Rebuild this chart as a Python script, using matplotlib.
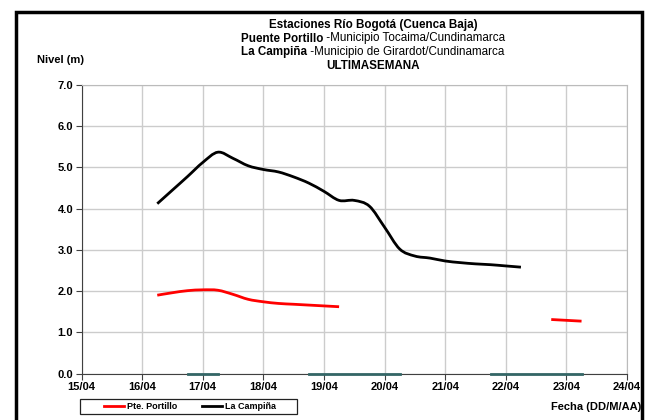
import numpy as np
import matplotlib
matplotlib.use('Agg')
import matplotlib.pyplot as plt
from matplotlib.lines import Line2D
from matplotlib.patches import Rectangle, PathPatch
from matplotlib.path import Path

plt.rcParams['font.family'] = ['Liberation Sans', 'DejaVu Sans']

# Time axis in days of April, 6-hourly readings
days_tick = [15, 16, 17, 18, 19, 20, 21, 22, 23, 24]
tick_labels = ['15/04', '16/04', '17/04', '18/04', '19/04',
               '20/04', '21/04', '22/04', '23/04', '24/04']

campina_t = [16.25, 16.5, 16.75, 17.0, 17.25, 17.5, 17.75, 18.0, 18.25, 18.5,
             18.75, 19.0, 19.25, 19.5, 19.75, 20.0, 20.25, 20.5, 20.75, 21.0,
             21.25, 21.5, 21.75, 22.0, 22.25]
campina_v = [4.12, 4.45, 4.78, 5.12, 5.37, 5.22, 5.04, 4.95, 4.89, 4.77,
             4.62, 4.42, 4.20, 4.20, 4.06, 3.55, 3.02, 2.85, 2.80, 2.73,
             2.69, 2.66, 2.64, 2.61, 2.58]

portillo_t1 = [16.25, 16.5, 16.75, 17.0, 17.25, 17.5, 17.75, 18.0, 18.25, 18.5,
               18.75, 19.0, 19.25]
portillo_v1 = [1.90, 1.96, 2.01, 2.03, 2.02, 1.92, 1.80, 1.74, 1.70, 1.68,
               1.66, 1.64, 1.62]
portillo_t2 = [22.75, 23.0, 23.25]
portillo_v2 = [1.31, 1.29, 1.27]

# zero-level segments drawn on the x axis
zero_segments = [(16.75, 17.25), (18.75, 20.25), (21.75, 23.25)]

W, H = 655, 420


def smooth_path(xs, ys):
    # Excel-style smoothed line: cubic Bezier through every point
    p = np.column_stack([xs, ys]).astype(float)
    n = len(p)
    verts = [p[0]]
    codes = [Path.MOVETO]
    for i in range(n - 1):
        prev = p[i - 1] if i > 0 else p[i]
        nxt = p[i + 2] if i + 2 < n else p[i + 1]
        c1 = p[i] + (p[i + 1] - prev) / 6
        c2 = p[i + 1] - (nxt - p[i]) / 6
        verts += [c1, c2, p[i + 1]]
        codes += [Path.CURVE4] * 3
    return Path(verts, codes)


fig = plt.figure(figsize=(W / 100, H / 100), dpi=100)
ax = fig.add_axes([81.5 / W, 1 - 373.5 / H, (627 - 81.5) / W, (373.5 - 85) / H])

# outer frame
fig.patches.append(Rectangle((16 / W, -0.05), (642 - 16) / W, 1.05 - 12 / H,
                             transform=fig.transFigure, fill=False,
                             edgecolor='black', linewidth=2.5))

for xs, ys, col in [(portillo_t1, portillo_v1, '#ff0000'),
                    (portillo_t2, portillo_v2, '#ff0000'),
                    (campina_t, campina_v, 'black')]:
    ax.add_patch(PathPatch(smooth_path(xs, ys), fill=False, edgecolor=col,
                           linewidth=2.0, capstyle='butt', zorder=3))
for a, b in zero_segments:
    ax.plot([a, b], [0, 0], color='#336666', linewidth=2.0, zorder=4, clip_on=False)

ax.set_xlim(15, 24)
ax.set_ylim(0, 7)
ax.set_xticks(days_tick)
ax.set_xticklabels(tick_labels)
ax.set_yticks(np.arange(0, 8, 1))
ax.set_yticklabels([f'{v:.1f}' for v in np.arange(0, 8, 1)])
ax.grid(True, color='#cccccc', linewidth=1.0)
ax.set_axisbelow(True)
for s in ['top', 'right']:
    ax.spines[s].set_color('#bbbbbb')
for s in ['left', 'bottom']:
    ax.spines[s].set_color('#404040')
ax.tick_params(direction='out', length=4, width=0.8, color='#404040',
               labelsize=8, pad=2)
for lab in ax.get_xticklabels() + ax.get_yticklabels():
    lab.set_fontweight('bold')

fig.text(37 / W, 1 - 60 / H, 'Nivel (m)', fontsize=8, fontweight='bold',
         ha='left', va='center')
fig.text(641 / W, 1 - 407 / H, 'Fecha (DD/M/AA)', fontsize=8, fontweight='bold',
         ha='right', va='center')

# title lines
cx = 373 / W
fs = 8.4
fig.text(cx, 1 - 25 / H, 'Estaciones Río Bogotá (Cuenca Baja)', fontsize=fs,
         fontweight='bold', ha='center', va='center')
fig.text(cx, 1 - 66 / H, 'ULTIMASEMANA', fontsize=fs, fontweight='bold',
         ha='center', va='center')

fig.canvas.draw()
renderer = fig.canvas.get_renderer()
for y, bold, rest in [(38.5, 'Puente Portillo', ' -Municipio Tocaima/Cundinamarca'),
                      (52, 'La Campiña', ' -Municipio de Girardot/Cundinamarca')]:
    t1 = fig.text(0, 1 - y / H, bold, fontsize=fs, fontweight='bold', va='center')
    t2 = fig.text(0, 1 - y / H, rest, fontsize=fs, va='center')
    w1 = t1.get_window_extent(renderer).width
    w2 = t2.get_window_extent(renderer).width
    x0 = cx * W - (w1 + w2) / 2
    t1.set_x(x0 / W)
    t2.set_x((x0 + w1) / W)

# legend: frame box drawn separately, entries centred inside
fig.patches.append(Rectangle((80 / W, 1 - 414 / H), 217 / W, 15 / H,
                             transform=fig.transFigure, fill=False,
                             edgecolor='#222222', linewidth=0.9))
handles = [Line2D([], [], color='#ff0000', linewidth=2.0),
           Line2D([], [], color='black', linewidth=2.0)]
fig.legend(handles, ['Pte. Portillo', 'La Campiña'], ncol=2,
           loc='center', bbox_to_anchor=(190 / W, 1 - 406.5 / H),
           frameon=False, prop={'size': 6.5, 'weight': 'bold'},
           handlelength=2.2, handletextpad=0.3, columnspacing=2.8,
           borderpad=0, borderaxespad=0)

fig.savefig('out.png', dpi=100)
